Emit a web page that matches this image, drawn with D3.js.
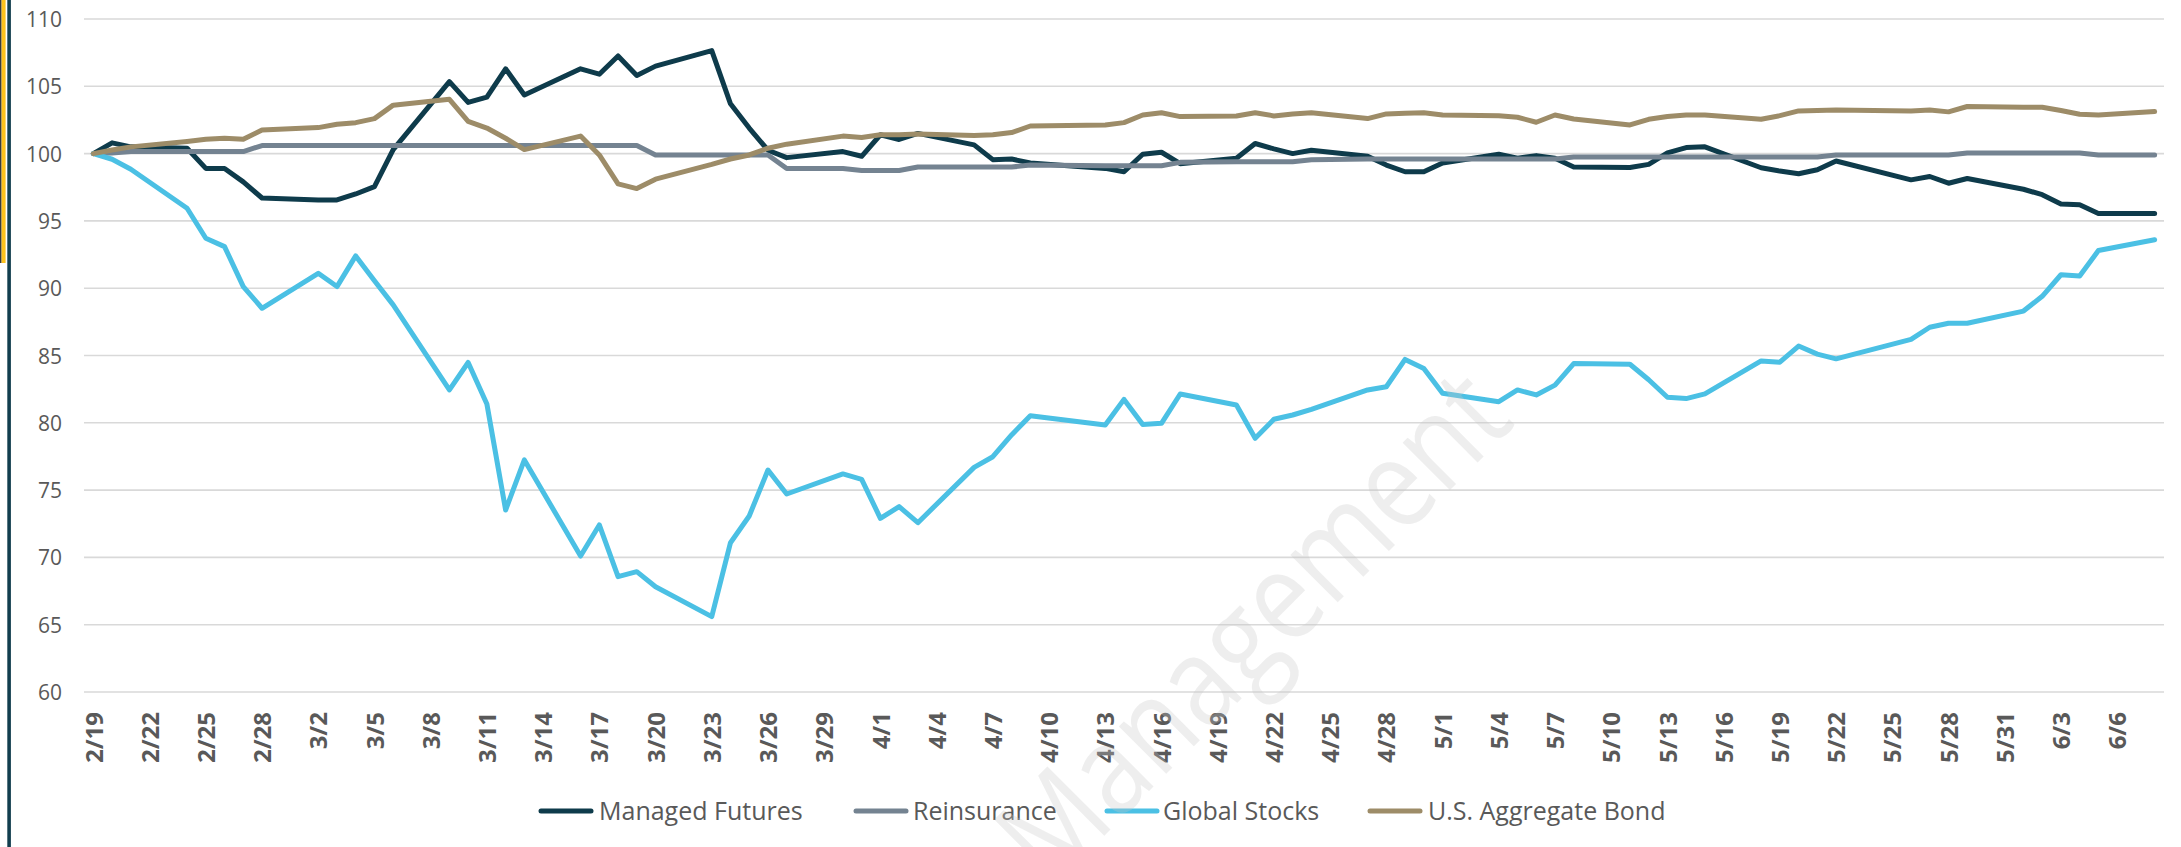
<!DOCTYPE html>
<html>
<head>
<meta charset="utf-8">
<script src="https://cdn.jsdelivr.net/npm/d3@7"></script>
<style>
  html, body { margin: 0; padding: 0; background: #ffffff; }
  svg { display: block; }
</style>
</head>
<body>
<svg id="chart" width="2181" height="847"></svg>
<script>
// Trading days, Feb 19 – Jun 8, 2020
const dates = [
  "2020-02-19","2020-02-20","2020-02-21","2020-02-24","2020-02-25","2020-02-26","2020-02-27","2020-02-28",
  "2020-03-02","2020-03-03","2020-03-04","2020-03-05","2020-03-06","2020-03-09","2020-03-10","2020-03-11",
  "2020-03-12","2020-03-13","2020-03-16","2020-03-17","2020-03-18","2020-03-19","2020-03-20","2020-03-23",
  "2020-03-24","2020-03-25","2020-03-26","2020-03-27","2020-03-30","2020-03-31","2020-04-01","2020-04-02",
  "2020-04-03","2020-04-06","2020-04-07","2020-04-08","2020-04-09","2020-04-13","2020-04-14","2020-04-15",
  "2020-04-16","2020-04-17","2020-04-20","2020-04-21","2020-04-22","2020-04-23","2020-04-24","2020-04-27",
  "2020-04-28","2020-04-29","2020-04-30","2020-05-01","2020-05-04","2020-05-05","2020-05-06","2020-05-07",
  "2020-05-08","2020-05-11","2020-05-12","2020-05-13","2020-05-14","2020-05-15","2020-05-18","2020-05-19",
  "2020-05-20","2020-05-21","2020-05-22","2020-05-26","2020-05-27","2020-05-28","2020-05-29","2020-06-01",
  "2020-06-02","2020-06-03","2020-06-04","2020-06-05","2020-06-08"
];

const managedFutures = [
  100, 100.8, 100.5, 100.4, 98.9, 98.9, 97.9, 96.7,
  96.56, 96.56, 97.0, 97.55, 100.3, 105.35, 103.8, 104.2,
  106.3, 104.35, 106.3, 105.9, 107.25, 105.8, 106.5, 107.65,
  103.7, 101.9, 100.25, 99.7, 100.15, 99.8, 101.4, 101.05,
  101.5, 100.65, 99.55, 99.6, 99.3, 98.9, 98.65, 99.95,
  100.1, 99.25, 99.65, 100.75, 100.35, 100.0, 100.25, 99.8,
  99.15, 98.65, 98.65, 99.3, 99.95, 99.65, 99.85, 99.65,
  99.0, 98.97, 99.2, 100.05, 100.45, 100.5, 98.95, 98.7,
  98.5, 98.8, 99.45, 98.05, 98.3, 97.8, 98.15, 97.35,
  96.95, 96.25, 96.2, 95.55, 95.55
];

const reinsurance = [
  100, 100.05, 100.15, 100.15, 100.15, 100.15, 100.15, 100.6,
  100.6, 100.6, 100.6, 100.6, 100.6, 100.6, 100.6, 100.6,
  100.6, 100.6, 100.6, 100.6, 100.6, 100.6, 99.9, 99.9,
  99.9, 99.9, 99.9, 98.9, 98.9, 98.75, 98.75, 98.75,
  99.0, 99.0, 99.0, 99.0, 99.15, 99.1, 99.1, 99.1,
  99.1, 99.35, 99.4, 99.4, 99.4, 99.4, 99.55, 99.6,
  99.6, 99.6, 99.6, 99.6, 99.6, 99.6, 99.6, 99.6,
  99.75, 99.75, 99.75, 99.75, 99.75, 99.75, 99.75, 99.75,
  99.75, 99.75, 99.9, 99.9, 99.9, 99.9, 100.05, 100.05,
  100.05, 100.05, 100.05, 99.9, 99.9
];

const globalStocks = [
  100, 99.58, 98.84, 95.94, 93.71, 93.09, 90.12, 88.51,
  91.11, 90.12, 92.4, 90.55, 88.76, 82.45, 84.48, 81.4,
  73.52, 77.24, 70.1, 72.41, 68.57, 68.94, 67.82, 65.6,
  71.09, 73.08, 76.49, 74.71, 76.2, 75.8, 72.9, 73.77,
  72.58, 76.69, 77.48, 79.1, 80.53, 79.84, 81.74, 79.88,
  79.96, 82.14, 81.32, 78.85, 80.26, 80.58, 81.0, 82.44,
  82.68, 84.71, 84.04, 82.19, 81.57, 82.44, 82.07, 82.8,
  84.4, 84.35, 83.2, 81.9, 81.8, 82.15, 84.6, 84.5,
  85.7, 85.1, 84.75, 86.2, 87.1, 87.4, 87.4, 88.3,
  89.4, 91.0, 90.9, 92.8, 93.6
];

const usAggregateBond = [
  100, 100.27, 100.5, 100.9, 101.06, 101.14, 101.06, 101.76,
  101.93, 102.18, 102.3, 102.6, 103.6, 104.03, 102.4, 101.9,
  101.14, 100.3, 101.3, 99.9, 97.75, 97.4, 98.1, 99.2,
  99.6, 99.9, 100.4, 100.7, 101.3, 101.2, 101.4, 101.4,
  101.46, 101.34, 101.4, 101.56, 102.05, 102.13, 102.3, 102.87,
  103.04, 102.75, 102.8, 103.04, 102.8, 102.95, 103.04, 102.6,
  102.95, 103.0, 103.04, 102.87, 102.82, 102.7, 102.33, 102.87,
  102.57, 102.13, 102.55, 102.75, 102.87, 102.87, 102.55, 102.82,
  103.17, 103.2, 103.24, 103.17, 103.24, 103.1, 103.5, 103.44,
  103.44, 103.2, 102.92, 102.87, 103.12
];

const seriesNames = ["Managed Futures", "Reinsurance", "Global Stocks", "U.S. Aggregate Bond"];
const seriesColors = ["#0e3b4b", "#748391", "#4bc0e4", "#9d8c68"];
const yTicks = [60, 65, 70, 75, 80, 85, 90, 95, 100, 105, 110];
const xTickDates = [
  "2020-02-19","2020-02-22","2020-02-25","2020-02-28","2020-03-02","2020-03-05","2020-03-08","2020-03-11",
  "2020-03-14","2020-03-17","2020-03-20","2020-03-23","2020-03-26","2020-03-29","2020-04-01","2020-04-04",
  "2020-04-07","2020-04-10","2020-04-13","2020-04-16","2020-04-19","2020-04-22","2020-04-25","2020-04-28",
  "2020-05-01","2020-05-04","2020-05-07","2020-05-10","2020-05-13","2020-05-16","2020-05-19","2020-05-22",
  "2020-05-25","2020-05-28","2020-05-31","2020-06-03","2020-06-06"
];

const parse = d3.utcParse("%Y-%m-%d");
const fmt = d3.utcFormat("%-m/%-d");
const allSeries = [managedFutures, reinsurance, globalStocks, usAggregateBond];

const svg = d3.select("#chart");
const FONT = "'Open Sans', 'Noto Sans', sans-serif";

// Plot frame
const plot = { left: 84, right: 2164, top: 19, bottom: 692 };
const halfDay = 12 * 3600 * 1000;
const x = d3.scaleUtc()
  .domain([new Date(+parse(dates[0]) - halfDay), new Date(+parse(dates[dates.length - 1]) + halfDay)])
  .range([plot.left, plot.right]);
const y = d3.scaleLinear().domain([60, 110]).range([plot.bottom, plot.top]);

// Slide edge decoration
svg.append("rect").attr("x", 0).attr("y", 0).attr("width", 1.6).attr("height", 263).attr("fill", "#3a3a3a");
svg.append("rect").attr("x", 1.6).attr("y", 0).attr("width", 4).attr("height", 263).attr("fill", "#fdc21c");
svg.append("rect").attr("x", 7.3).attr("y", 0).attr("width", 3.6).attr("height", 847).attr("fill", "#123e4e");

// Horizontal gridlines
svg.append("g")
  .selectAll("line")
  .data(yTicks)
  .join("line")
  .attr("x1", plot.left).attr("x2", plot.right)
  .attr("y1", d => y(d)).attr("y2", d => y(d))
  .attr("stroke", "#d9d9d9")
  .attr("stroke-width", 1.6);

// Y axis labels
const yAxis = d3.axisLeft(y).tickValues(yTicks).tickSize(0).tickPadding(0);
const gy = svg.append("g").attr("transform", "translate(62,0)").call(yAxis);
gy.select(".domain").remove();
gy.selectAll("text")
  .attr("font-family", FONT)
  .attr("font-size", 21)
  .attr("fill", "#595959")
  .attr("dy", "0.36em");

// X axis labels (rotated)
const xAxis = d3.axisBottom(x).tickValues(xTickDates.map(parse)).tickFormat(fmt).tickSize(0).tickPadding(0);
const gx = svg.append("g").attr("transform", `translate(0,${plot.bottom + 20})`).call(xAxis);
gx.select(".domain").remove();
gx.selectAll("text")
  .attr("font-family", FONT)
  .attr("font-size", 24)
  .attr("font-weight", "bold")
  .attr("fill", "#595959")
  .attr("text-anchor", "end")
  .attr("transform", "rotate(-90)")
  .attr("x", 0)
  .attr("y", 0)
  .attr("dy", "0.36em");

// Series lines
const line = d3.line()
  .x((d, i) => x(parse(dates[i])))
  .y(d => y(d));

svg.append("g")
  .selectAll("path")
  .data(allSeries)
  .join("path")
  .attr("d", d => line(d))
  .attr("fill", "none")
  .attr("stroke", (d, i) => seriesColors[i])
  .attr("stroke-width", 5)
  .attr("stroke-linejoin", "round")
  .attr("stroke-linecap", "round");

// Legend
const legendItems = [
  { swatch: 539, text: 599 },
  { swatch: 854, text: 913 },
  { swatch: 1105, text: 1163 },
  { swatch: 1368, text: 1428 }
];
const legendY = 811;
const lg = svg.append("g");
legendItems.forEach((it, i) => {
  lg.append("line")
    .attr("x1", it.swatch + 2).attr("x2", it.swatch + 52)
    .attr("y1", legendY).attr("y2", legendY)
    .attr("stroke", seriesColors[i])
    .attr("stroke-width", 5)
    .attr("stroke-linecap", "round");
  lg.append("text")
    .attr("x", it.text)
    .attr("y", legendY)
    .attr("dy", "0.36em")
    .attr("font-family", FONT)
    .attr("font-size", 25)
    .attr("fill", "#595959")
    .text(seriesNames[i]);
});

// Watermark
svg.append("text")
  .attr("transform", "translate(1050,890) rotate(-45)")
  .attr("font-family", FONT)
  .attr("font-size", 125)
  .attr("textLength", 660)
  .attr("lengthAdjust", "spacingAndGlyphs")
  .attr("fill", "#c8c8c8")
  .attr("fill-opacity", 0.3)
  .text("Management");
</script>
</body>
</html>
